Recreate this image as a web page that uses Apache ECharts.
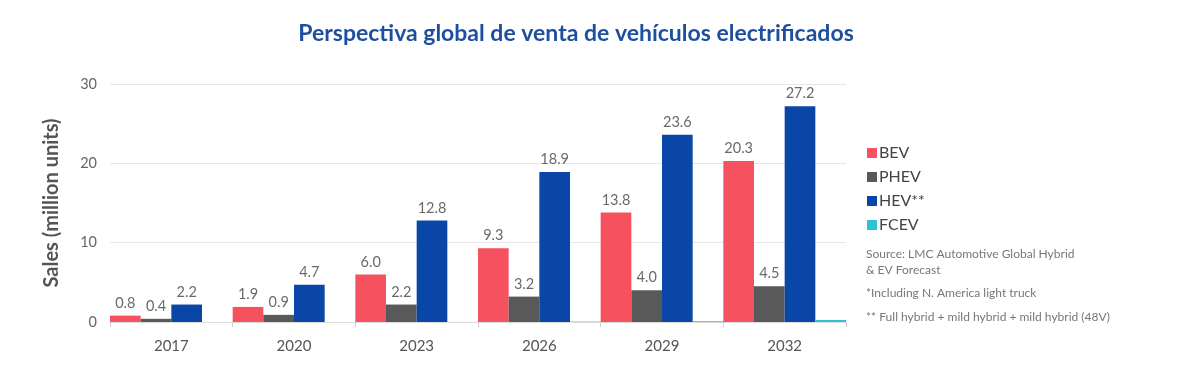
<!DOCTYPE html>
<html>
<head>
<meta charset="utf-8">
<script src="https://cdn.jsdelivr.net/npm/echarts@6/dist/echarts.min.js"></script>
<style>
html,body{margin:0;padding:0;background:#fff;}
#c{width:1200px;height:366px;}
</style>
</head>
<body>
<div id="c"></div>
<script>
const categories = ['2017', '2020', '2023', '2026', '2029', '2032'];
const bev = [0.8, 1.9, 6.0, 9.3, 13.8, 20.3];
const phev = [0.4, 0.9, 2.2, 3.2, 4.0, 4.5];
const hev = [2.2, 4.7, 12.8, 18.9, 23.6, 27.2];
const fcev = [0, 0, 0.01, 0.05, 0.1, 0.25];
const yTicks = [0, 10, 20, 30];
const seriesNames = ['BEV', 'PHEV', 'HEV**', 'FCEV'];
const notes = [
  'Source: LMC Automotive Global Hybrid',
  '& EV Forecast',
  '*Including N. America light truck',
  '** Full hybrid + mild hybrid + mild hybrid (48V)'
];

const colors = ['#F5515F', '#595959', '#0A46A8', '#2DC3D2'];
const labelStyle = {
  show: true, position: 'top', color: '#6a6a6a', fontSize: 14.5,
  fontFamily: 'Lato', distance: 5,
  formatter: p => p.value.toFixed(1)
};

const chart = echarts.init(document.getElementById('c'));
const dataSets = [bev, phev, hev, fcev];
chart.setOption({
  animation: false,
  color: colors,
  title: {
    text: 'Perspectiva global de venta de vehículos electrificados',
    left: 571, top: 17, textAlign: 'center',
    textStyle: { color: '#1D4F9E', fontSize: 23, fontWeight: 'bold', fontFamily: 'Lato' }
  },
  legend: {
    orient: 'vertical', left: 862, top: 140,
    itemWidth: 10, itemHeight: 10, itemGap: 8,
    icon: 'rect',
    data: seriesNames,
    textStyle: { color: '#444', fontSize: 16, fontFamily: 'Lato', padding: [0, 0, 0, -3] }
  },
  grid: { left: 110, right: 354, top: 84, bottom: 44 },
  xAxis: {
    type: 'category', data: categories,
    axisLine: { lineStyle: { color: '#dcdcdc' } },
    axisTick: { show: true, length: 5, lineStyle: { color: '#d0d0d0' } },
    axisLabel: { color: '#555', fontSize: 15, fontFamily: 'Lato', margin: 17 }
  },
  yAxis: {
    type: 'value', min: 0, max: 30, interval: 10,
    name: 'Sales (million units)', nameLocation: 'middle', nameGap: 48,
    nameTextStyle: { color: '#555', fontSize: 20, fontWeight: 'bold', fontFamily: 'Lato' },
    axisLabel: { color: '#666', fontSize: 14.5, fontFamily: 'Lato', margin: 13,
      formatter: v => yTicks.includes(v) ? String(v) : '' },
    splitLine: { lineStyle: { color: '#e6e6e6' } },
    axisLine: { show: false }, axisTick: { show: false }
  },
  series: seriesNames.map((n, i) => ({
    name: n, type: 'bar', data: dataSets[i],
    barGap: '0%', barCategoryGap: '0%',
    label: i < 3 ? labelStyle : { show: false }
  })),
  graphic: notes.map((t, i) => ({
    type: 'text', left: 866, top: [248, 264, 287, 311][i],
    style: { text: t, fill: '#777', fontSize: 12, fontFamily: 'Lato' }
  }))
});
</script>
</body>
</html>
